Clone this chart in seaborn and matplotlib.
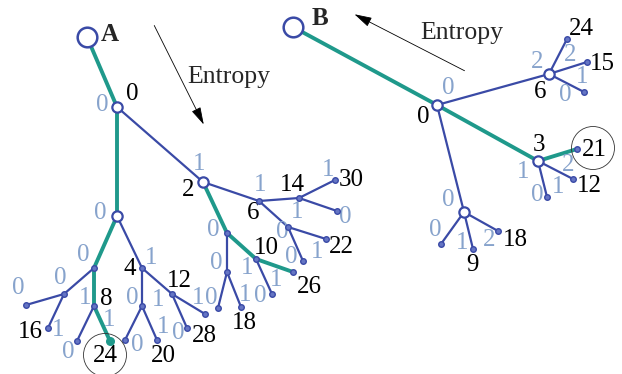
import numpy as np
import pandas as pd
import matplotlib
matplotlib.use("Agg")
import matplotlib.pyplot as plt
from matplotlib.patches import Circle
import seaborn as sns

# --- node data (pixel coordinates, y downwards) ---
node_id = ["A", "a0", "al", "a2", "all", "a4", "alll", "a8", "aq1", "a16", "aq2", "a24",
           "a41", "a12", "aq3", "a20", "a28", "aq4", "a2l", "a6", "a2ll", "a10", "aq5", "a18",
           "aq6", "a26", "a14", "a6r", "a30", "aq7", "a22", "aq8",
           "B", "b0", "b6", "b3", "bd", "b24", "b15", "bq1", "b21", "b12", "bq2", "bq3", "b9", "b18"]
node_x = [87, 117, 117, 203, 94, 142, 64, 94, 26, 48, 77, 110,
          142, 172, 125, 157, 187, 205, 227, 259, 227, 256, 218, 241,
          272, 293, 299, 288, 335, 337, 326, 303,
          293, 437, 549, 538, 464, 567, 587, 584, 577, 573, 547, 441, 473, 498]
node_y = [37, 107, 216, 182, 268, 268, 294, 306, 305, 328, 341, 341,
          306, 294, 340, 340, 328, 314, 233, 201, 272, 259, 308, 307,
          294, 272, 198, 227, 180, 211, 239, 261,
          27, 105, 74, 161, 212, 39, 62, 92, 149, 179, 197, 244, 249, 231]
node_kind = ["root", "big", "big", "big", "small", "small", "small", "small", "small", "small", "small", "greenleaf",
             "small", "small", "small", "small", "small", "small", "small", "small", "small", "small", "small", "small",
             "small", "small", "small", "small", "small", "small", "small", "small",
             "root", "big", "big", "big", "big", "small", "small", "small", "small", "small", "small", "small", "small", "small"]

# node names shown in black
name_text = ["0", "2", "4", "8", "16", "24", "12", "20", "28", "6", "10", "18", "26", "14", "30", "22",
             "0", "6", "3", "24", "15", "21", "12", "9", "18"]
name_x = [132, 188, 130, 106, 30, 105, 179, 163, 204, 253, 266, 244, 309, 292, 351, 341,
          423, 540, 539, 581, 602, 594, 589, 472, 515]
name_y = [94, 190, 269, 299, 332, 356, 281, 356, 336, 213, 248, 323, 287, 185, 180, 247,
          117, 92, 145, 29, 64, 150, 186, 265, 240]

# --- edges: parent, child, branch label, on entropy path ---
edge_parent = ["A", "a0", "a0", "al", "al", "all", "all", "alll", "alll", "a8", "a8",
               "a4", "a4", "a41", "a41", "a12", "a12", "a2", "a2", "a2l", "a2l", "a2ll", "a2ll",
               "a10", "a10", "a6", "a6", "a14", "a14", "a6r", "a6r",
               "B", "b0", "b0", "b0", "b6", "b6", "b6", "b3", "b3", "b3", "bd", "bd", "bd"]
edge_child = ["a0", "al", "a2", "all", "a4", "alll", "a8", "aq1", "a16", "aq2", "a24",
              "a41", "a12", "aq3", "a20", "a28", "aq4", "a2l", "a6", "a2ll", "a10", "aq5", "a18",
              "aq6", "a26", "a14", "a6r", "a30", "aq7", "a22", "aq8",
              "b0", "b6", "b3", "bd", "b24", "b15", "bq1", "b21", "b12", "bq2", "bq3", "b9", "b18"]
edge_label = ["0", "0", "1", "0", "1", "0", "1", "0", "1", "0", "1",
              "0", "1", "0", "1", "0", "1", "0", "1", "0", "1", "0", "1",
              "0", "1", "1", "0", "1", "0", "1", "0",
              "0", "2", "1", "0", "2", "1", "0", "2", "1", "0", "0", "1", "2"]
edge_green = [1, 1, 0, 1, 0, 0, 1, 0, 0, 0, 1,
              0, 0, 0, 0, 0, 0, 1, 0, 0, 1, 0, 0,
              0, 1, 0, 0, 0, 0, 0, 0,
              1, 0, 1, 0, 0, 0, 0, 1, 0, 0, 0, 0, 0]
elab_x = [102, 100, 199, 83, 151, 60, 85, 18, 58, 68, 109,
          132, 158, 137, 163, 178, 198, 213, 260, 216, 247, 211, 245,
          260, 276, 297, 282, 328, 345, 317, 291,
          448, 537, 523, 448, 570, 582, 565, 568, 558, 537, 435, 462, 489]
elab_y = [105, 213, 164, 255, 258, 278, 298, 288, 330, 352, 320,
          298, 300, 345, 327, 333, 298, 230, 185, 263, 268, 298, 295,
          296, 280, 212, 232, 170, 217, 252, 257,
          88, 62, 172, 200, 55, 77, 95, 165, 187, 195, 230, 243, 240]

BLUE = "#3a4aa6"
GREEN = "#1f998b"
LBLUE = "#87a3cc"

sns.set_theme(style="white")
plt.rcParams["font.family"] = ["Liberation Serif", "DejaVu Serif"]

nodes = pd.DataFrame({"id": node_id, "x": node_x, "y": node_y, "kind": node_kind}).set_index("id")

rows = []
for i, (p, c) in enumerate(zip(edge_parent, edge_child)):
    for n in (p, c):
        rows.append({"edge": i, "x": nodes.loc[n, "x"], "y": nodes.loc[n, "y"],
                     "path": "green" if edge_green[i] else "blue"})
seg = pd.DataFrame(rows)

fig = plt.figure(figsize=(6.22, 3.74), dpi=100)
ax = fig.add_axes([0, 0, 1, 1])

sns.lineplot(data=seg[seg.path == "blue"], x="x", y="y", units="edge", estimator=None,
             sort=False, color=BLUE, lw=1.6, ax=ax, legend=False)
sns.lineplot(data=seg[seg.path == "green"], x="x", y="y", units="edge", estimator=None,
             sort=False, color=GREEN, lw=2.8, ax=ax, legend=False)

small = nodes[nodes.kind == "small"]
sns.scatterplot(x=small.x, y=small.y, s=16, color="#6575c4", edgecolor=BLUE, linewidth=1.0, ax=ax, zorder=4)
gl = nodes[nodes.kind == "greenleaf"]
sns.scatterplot(x=gl.x, y=gl.y, s=30, color=GREEN, edgecolor=GREEN, linewidth=1.0, ax=ax, zorder=4)
big = nodes[nodes.kind == "big"]
sns.scatterplot(x=big.x, y=big.y, s=55, color="white", edgecolor=BLUE, linewidth=1.6, ax=ax, zorder=5)
root = nodes[nodes.kind == "root"]
sns.scatterplot(x=root.x, y=root.y, s=200, color="white", edgecolor=BLUE, linewidth=1.8, ax=ax, zorder=5)

for t, x, y in zip(name_text, name_x, name_y):
    ax.text(x, y, t, fontsize=18, color="black", ha="center", va="center")
for t, x, y in zip(edge_label, elab_x, elab_y):
    ax.text(x, y, t, fontsize=18, color=LBLUE, ha="center", va="center")

# circled nodes
for cx, cy in [(105, 355), (593, 148)]:
    ax.add_patch(Circle((cx, cy), 21.5, fill=False, ec="#333333", lw=0.6, zorder=6))

ax.text(110, 34, "A", fontsize=18, fontweight="bold", ha="center", va="center")
ax.text(320, 18, "B", fontsize=18, fontweight="bold", ha="center", va="center")

# entropy arrows
arrow = dict(arrowstyle="-|>,head_length=0.9,head_width=0.25", color="black", lw=0.6)
ax.annotate("", xy=(205, 127), xytext=(153, 23), arrowprops=arrow)
ax.annotate("", xy=(352, 13), xytext=(467, 72), arrowprops=arrow)
ax.text(229, 77, "Entropy", fontsize=18.5, ha="center", va="center")
ax.text(462, 33, "Entropy", fontsize=18.5, ha="center", va="center")

ax.set_xlim(0, 622)
ax.set_ylim(374, 0)
ax.set_axis_off()
fig.savefig("out.png", dpi=100)
